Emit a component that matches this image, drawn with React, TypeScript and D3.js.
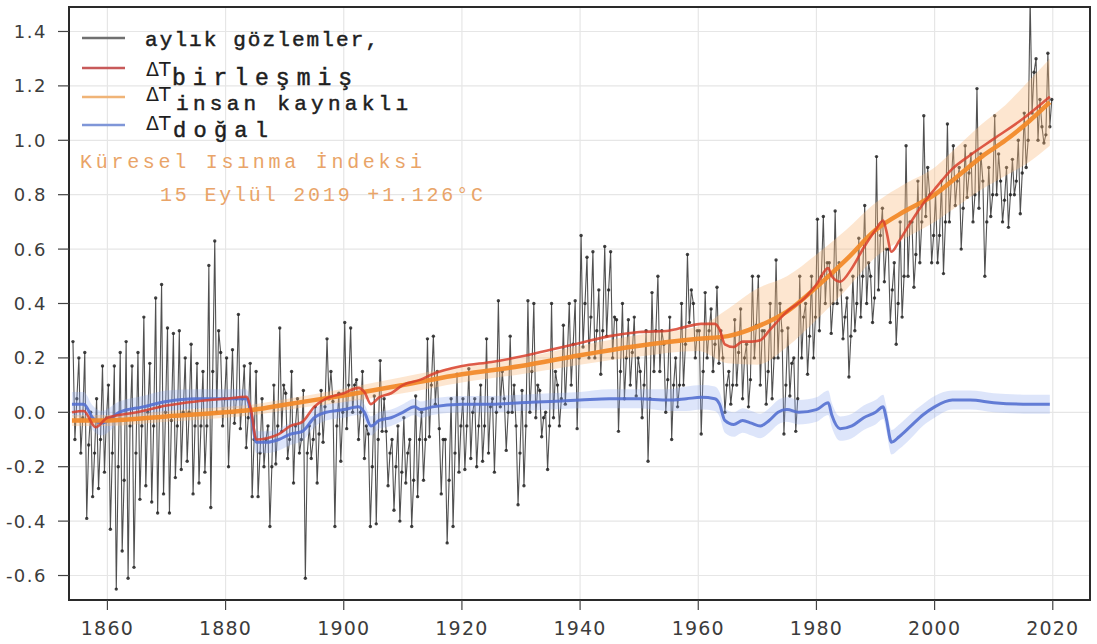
import React from 'react';
import * as d3 from 'd3';

// ---------- DATA ----------
const obsStartYear = 1854;
const obsHigh = [
  0.26, 0.20, 0.22, 0.00, 0.05, 0.17,
  0.10, 0.17, 0.22, 0.26, 0.17, 0.22, 0.35, 0.18, 0.42, 0.47,
  0.31, 0.29, 0.30, 0.20, 0.25, 0.18, 0.15, 0.54, 0.63, 0.22,
  0.20, 0.23, 0.36, 0.17, 0.18, 0.15, 0.05, -0.05, 0.10, 0.31,
  0.07, 0.15, 0.05, 0.08, -0.05, 0.02, 0.08, 0.27, 0.04, 0.07,
  0.33, 0.31, 0.12, 0.15, -0.08, 0.06, 0.19, -0.07, -0.10, -0.05,
  -0.02, -0.10, 0.06, 0.00, 0.27, 0.28, -0.06, -0.10, 0.05, 0.14,
  0.05, 0.16, 0.05, 0.10, 0.27, 0.05, 0.41, 0.05, 0.28, -0.05,
  0.08, 0.41, 0.40, 0.08, 0.00, 0.40, 0.10, 0.32, 0.40, 0.41,
  0.65, 0.57, 0.59, 0.45, 0.61, 0.59, 0.34, 0.40, 0.34, 0.35,
  0.15, 0.30, 0.44, 0.50, 0.25, 0.35, 0.20, 0.40, 0.58, 0.40,
  0.30, 0.44, 0.38, 0.46, 0.20, 0.15, 0.34, 0.38, 0.25, 0.50,
  0.50, 0.30, 0.40, 0.56, 0.30, 0.31, 0.20, 0.50, 0.40, 0.50,
  0.71, 0.72, 0.55, 0.74, 0.45, 0.42, 0.50, 0.64, 0.76, 0.50,
  0.94, 0.75, 0.60, 0.55, 0.70, 0.98, 0.70, 0.85, 1.09, 0.80,
  0.80, 0.85, 1.06, 0.98, 0.90, 0.98, 0.95, 1.19, 0.85, 0.90,
  1.09, 0.85, 0.90, 0.93, 1.00, 1.10, 1.52, 1.30, 1.05, 1.32,
];
const obsMid = [
  0.05, -0.02, -0.12, -0.15, -0.10, -0.02,
  -0.15, -0.20, -0.25, -0.05, -0.15, -0.05, 0.00, -0.05, 0.02, 0.00,
  -0.03, -0.05, 0.00, 0.00, -0.05, -0.05, -0.05, 0.15, 0.30, 0.05,
  0.00, 0.05, 0.05, -0.02, -0.10, -0.15, -0.10, -0.20, -0.05, 0.10,
  -0.10, -0.05, -0.10, -0.15, -0.10, -0.08, 0.02, 0.15, -0.05, 0.00,
  0.10, 0.10, 0.00, -0.05, -0.20, -0.10, 0.05, -0.15, -0.20, -0.22,
  -0.15, -0.25, -0.10, -0.10, 0.10, 0.15, -0.10, -0.25, -0.15, -0.05,
  -0.05, 0.00, -0.05, -0.05, 0.02, 0.00, 0.15, 0.00, 0.10, -0.15,
  -0.05, 0.15, 0.10, -0.02, -0.05, 0.15, 0.05, 0.20, 0.25, 0.20,
  0.40, 0.35, 0.30, 0.30, 0.45, 0.35, 0.15, 0.20, 0.22, 0.20,
  0.10, 0.05, 0.30, 0.30, 0.12, 0.10, 0.10, 0.25, 0.45, 0.30,
  0.15, 0.30, 0.25, 0.30, 0.10, 0.10, 0.22, 0.20, 0.12, 0.32,
  0.30, 0.15, 0.20, 0.40, 0.10, 0.18, 0.05, 0.35, 0.28, 0.35,
  0.50, 0.55, 0.40, 0.55, 0.35, 0.28, 0.40, 0.50, 0.55, 0.42,
  0.65, 0.60, 0.45, 0.40, 0.50, 0.70, 0.58, 0.70, 0.90, 0.65,
  0.65, 0.70, 0.85, 0.85, 0.75, 0.88, 0.80, 0.95, 0.70, 0.80,
  0.95, 0.78, 0.80, 0.85, 0.88, 1.00, 1.25, 1.15, 1.02, 1.15,
];
const obsLow = [
  -0.10, -0.15, -0.39, -0.31, -0.28, -0.22,
  -0.43, -0.65, -0.51, -0.61, -0.57, -0.32, -0.27, -0.33, -0.37, -0.30,
  -0.37, -0.24, -0.21, -0.18, -0.30, -0.26, -0.22, -0.35, 0.00, -0.05,
  -0.20, -0.04, -0.06, -0.13, -0.31, -0.31, -0.20, -0.42, -0.19, -0.07,
  -0.17, -0.26, -0.15, -0.61, -0.17, -0.26, -0.11, 0.05, -0.42, -0.18,
  -0.06, 0.00, -0.10, -0.17, -0.42, -0.41, -0.07, -0.27, -0.36, -0.40,
  -0.26, -0.42, -0.31, -0.25, -0.09, 0.03, -0.30, -0.48, -0.42, -0.22,
  -0.21, -0.17, -0.20, -0.18, -0.15, -0.22, 0.02, -0.14, 0.00, -0.34,
  -0.27, 0.00, -0.02, -0.09, -0.21, -0.02, -0.05, 0.03, 0.10, -0.06,
  0.24, 0.20, 0.20, 0.14, 0.28, 0.20, -0.07, 0.05, 0.10, 0.06,
  -0.02, -0.18, 0.15, 0.15, 0.00, -0.10, 0.02, 0.10, 0.33, 0.20,
  -0.08, 0.20, 0.15, 0.18, 0.00, 0.03, 0.10, 0.05, 0.02, 0.20,
  0.10, 0.03, 0.05, 0.20, -0.08, 0.06, -0.07, 0.20, 0.14, 0.20,
  0.30, 0.40, 0.29, 0.40, 0.27, 0.13, 0.30, 0.35, 0.40, 0.33,
  0.45, 0.48, 0.33, 0.25, 0.35, 0.50, 0.46, 0.55, 0.72, 0.55,
  0.55, 0.51, 0.70, 0.76, 0.60, 0.79, 0.70, 0.75, 0.50, 0.72,
  0.80, 0.70, 0.68, 0.80, 0.73, 0.90, 1.10, 1.00, 0.99, 1.05,
];

// anthropogenic warming (orange) with its uncertainty half-width
const anthroYears = [1854, 1860, 1870, 1880, 1885, 1890, 1900, 1910, 1920, 1930, 1940, 1950, 1960, 1965, 1970, 1975, 1980, 1985, 1990, 1995, 2000, 2004, 2008, 2012, 2016, 2019.5];
const anthroVals = [-0.03, -0.03, -0.015, 0.0, 0.01, 0.028, 0.062, 0.10, 0.14, 0.17, 0.21, 0.245, 0.27, 0.28, 0.315, 0.37, 0.46, 0.56, 0.67, 0.74, 0.80, 0.87, 0.94, 1.00, 1.07, 1.14];
const anthroSpread = [0.02, 0.02, 0.02, 0.02, 0.02, 0.02, 0.025, 0.03, 0.03, 0.03, 0.035, 0.04, 0.045, 0.10, 0.14, 0.13, 0.12, 0.11, 0.10, 0.10, 0.10, 0.11, 0.12, 0.13, 0.15, 0.16];

// natural warming (blue) with its uncertainty half-width
const natYears = [1854, 1856, 1857.5, 1859, 1862, 1866, 1870, 1875, 1880, 1883.5, 1884.3, 1885.2, 1887, 1889, 1891, 1893, 1895, 1897, 1900, 1902.5, 1903.5, 1904.6, 1906, 1908, 1910, 1912, 1913, 1915, 1920, 1925, 1930, 1935, 1940, 1945, 1950, 1955, 1958, 1960.5, 1962.8, 1963.6, 1964.5, 1966, 1967.5, 1969, 1970.5, 1972, 1973.5, 1975, 1977, 1980, 1982, 1982.6, 1984, 1986, 1988, 1990, 1991.3, 1991.8, 1992.7, 1994, 1996, 1998, 2000, 2003, 2006, 2010, 2015, 2019.5];
const natVals = [0.03, 0.03, -0.02, -0.04, 0.0, 0.02, 0.04, 0.05, 0.05, 0.05, 0.0, -0.11, -0.11, -0.10, -0.08, -0.07, -0.02, 0.0, 0.01, 0.02, 0.0, -0.05, -0.03, -0.02, 0.0, 0.02, 0.01, 0.02, 0.03, 0.03, 0.035, 0.04, 0.045, 0.05, 0.05, 0.045, 0.05, 0.055, 0.05, 0.03, -0.03, -0.045, -0.03, -0.04, -0.05, -0.03, 0.0, 0.01, 0.0, 0.01, 0.035, -0.01, -0.06, -0.05, -0.02, 0.0, 0.02, -0.02, -0.11, -0.09, -0.05, -0.01, 0.02, 0.045, 0.045, 0.035, 0.03, 0.03];
const natSpread = [0.045, 0.045, 0.045, 0.045, 0.04, 0.04, 0.04, 0.035, 0.035, 0.035, 0.04, 0.04, 0.04, 0.04, 0.04, 0.035, 0.035, 0.03, 0.03, 0.03, 0.03, 0.035, 0.03, 0.03, 0.03, 0.03, 0.03, 0.03, 0.03, 0.03, 0.03, 0.03, 0.03, 0.035, 0.035, 0.04, 0.045, 0.045, 0.045, 0.045, 0.045, 0.045, 0.045, 0.045, 0.045, 0.045, 0.045, 0.045, 0.045, 0.045, 0.045, 0.045, 0.045, 0.045, 0.045, 0.045, 0.045, 0.045, 0.045, 0.045, 0.045, 0.04, 0.04, 0.035, 0.035, 0.035, 0.035, 0.035];

// combined warming (red)
const combYears = [1854, 1856, 1858, 1860, 1865, 1870, 1875, 1880, 1883.5, 1884.3, 1885.2, 1887, 1889, 1891, 1893, 1895, 1897, 1900, 1902.5, 1903.5, 1904.6, 1906, 1908, 1910, 1913, 1915, 1920, 1925, 1930, 1935, 1940, 1945, 1950, 1955, 1958, 1960.5, 1962.8, 1963.6, 1964.5, 1966, 1967.5, 1969, 1970.5, 1972, 1975, 1978, 1980, 1982, 1982.6, 1984, 1986, 1988, 1990, 1991.3, 1991.8, 1992.7, 1994, 1996, 1998, 2000, 2003, 2006, 2010, 2015, 2019.5];
const combVals = [0.0, 0.005, -0.055, -0.02, 0.0, 0.025, 0.04, 0.05, 0.057, 0.01, -0.10, -0.095, -0.08, -0.05, -0.035, 0.02, 0.05, 0.07, 0.09, 0.074, 0.03, 0.055, 0.07, 0.10, 0.12, 0.14, 0.17, 0.185, 0.205, 0.23, 0.255, 0.28, 0.295, 0.30, 0.315, 0.325, 0.325, 0.305, 0.25, 0.24, 0.26, 0.26, 0.265, 0.30, 0.37, 0.42, 0.47, 0.53, 0.50, 0.48, 0.53, 0.605, 0.67, 0.705, 0.67, 0.59, 0.63, 0.70, 0.765, 0.82, 0.895, 0.945, 1.005, 1.08, 1.16];

const xTicks = [1860, 1880, 1900, 1920, 1940, 1960, 1980, 2000, 2020];
const yTicks = [-0.6, -0.4, -0.2, 0.0, 0.2, 0.4, 0.6, 0.8, 1.0, 1.2, 1.4];

const legendObs = 'aylık gözlemler,';
const legendComb = 'birleşmiş';
const legendAnthro = 'insan kaynaklı';
const legendNat = 'doğal';
const gwiTitle = 'Küresel Isınma İndeksi';
const gwiValue = '15 Eylül 2019 +1.126°C';

// ---------- CHART ----------
const W = 1097;
const H = 644;
const L = 69, R = 1090, T = 7, B = 600;

export default function App() {
  const x = d3.scaleLinear().domain([1853.5, 2026.3]).range([L, R]);
  const y = d3.scaleLinear().domain([-0.69, 1.49]).range([B, T]);

  const obsPts: [number, number][] = [];
  obsHigh.forEach((h, i) => {
    const yr = obsStartYear + i;
    obsPts.push([yr + 0.17, h]);
    obsPts.push([yr + 0.5, obsLow[i]]);
    obsPts.push([yr + 0.83, obsMid[i]]);
  });
  const obsLine = d3.line<[number, number]>().x(d => x(d[0])).y(d => y(d[1]))(obsPts) || '';

  const mkLine = (xs: number[], vs: number[]) =>
    d3.line<number>().curve(d3.curveMonotoneX).x((_, i) => x(xs[i])).y(v => y(v))(vs) || '';
  const mkBand = (xs: number[], vs: number[], sp: number[]) =>
    d3.area<number>().curve(d3.curveMonotoneX)
      .x((_, i) => x(xs[i]))
      .y0((v, i) => y(v - sp[i]))
      .y1((v, i) => y(v + sp[i]))(vs) || '';

  const fontTick = 'DejaVu Sans, sans-serif';
  const fontMono = 'Liberation Mono, DejaVu Sans Mono, monospace';

  return (
    <svg width={W} height={H} style={{ position: 'absolute', left: 0, top: 0, background: '#fff' }}>
      <defs>
        <clipPath id="plot">
          <rect x={L} y={T} width={R - L} height={B - T} />
        </clipPath>
      </defs>
      <rect x={0} y={0} width={W} height={H} fill="#fff" />
      {/* grid */}
      <g stroke="#e6e6e6" strokeWidth={1.2}>
        {xTicks.map(t => <line key={'gx' + t} x1={x(t)} x2={x(t)} y1={T} y2={B} />)}
        {yTicks.map(t => <line key={'gy' + t} x1={L} x2={R} y1={y(t)} y2={y(t)} />)}
      </g>
      <g clipPath="url(#plot)">
        {/* observations */}
        <path d={obsLine} fill="none" stroke="#262626" strokeOpacity={0.8} strokeWidth={1.1} />
        <g fill="#222" fillOpacity={0.85}>
          {obsPts.map((p, i) => <circle key={'o' + i} cx={x(p[0])} cy={y(p[1])} r={1.7} />)}
        </g>
        {/* bands */}
        <path d={mkBand(natYears, natVals, natSpread)} fill="#8fa8ee" fillOpacity={0.3} />
        <path d={mkBand(anthroYears, anthroVals, anthroSpread)} fill="#f8b878" fillOpacity={0.35} />
        {/* lines */}
        <path d={mkLine(natYears, natVals)} fill="none" stroke="#5470d0" strokeWidth={3} strokeOpacity={0.9} />
        <path d={mkLine(anthroYears, anthroVals)} fill="none" stroke="#f28a2a" strokeWidth={4.5} strokeOpacity={0.95} />
        <path d={mkLine(combYears, combVals)} fill="none" stroke="#d8402c" strokeWidth={2.6} strokeOpacity={0.85} />
      </g>
      {/* frame */}
      <rect x={L} y={T} width={R - L} height={B - T} fill="none" stroke="#2a2a2a" strokeWidth={2} />
      {/* y axis */}
      <g fill="#3c3c3c" fontFamily={fontTick} fontSize={18}>
        {yTicks.map(t => (
          <g key={'yt' + t}>
            <line x1={58} x2={L} y1={y(t)} y2={y(t)} stroke="#444" strokeWidth={1.2} />
            <text x={47} y={y(t) + 6.5} textAnchor="end" letterSpacing={1.5}>
              {t < 0 ? '-' + Math.abs(t).toFixed(1) : t.toFixed(1)}
            </text>
          </g>
        ))}
      </g>
      {/* x axis */}
      <g fill="#3c3c3c" fontFamily={fontTick} fontSize={19}>
        {xTicks.map(t => (
          <g key={'xt' + t}>
            <line x1={x(t)} x2={x(t)} y1={B} y2={610} stroke="#444" strokeWidth={1.2} />
            <text x={x(t)} y={635} textAnchor="middle" letterSpacing={1.2}>{t}</text>
          </g>
        ))}
      </g>
      {/* legend */}
      <g strokeWidth={2.5}>
        <line x1={82} x2={125} y1={38} y2={38} stroke="#707070" />
        <line x1={82} x2={125} y1={68} y2={68} stroke="#c85a5a" />
        <line x1={82} x2={125} y1={97} y2={97} stroke="#f0b477" />
        <line x1={82} x2={125} y1={125} y2={125} stroke="#7f96d8" />
      </g>
      <g fill="#1e1e1e" stroke="#1e1e1e" strokeWidth={0.5} fontFamily={fontMono} fontSize={21}>
        <text x={145} y={46} textLength={233} lengthAdjust="spacing">{legendObs}</text>
        <text x={172} y={85} fontSize={23} textLength={180} lengthAdjust="spacing">{legendComb}</text>
        <text x={176} y={110} textLength={232} lengthAdjust="spacing">{legendAnthro}</text>
        <text x={173} y={137} fontSize={22} textLength={95} lengthAdjust="spacing">{legendNat}</text>
      </g>
      <g fill="#1e1e1e" fontFamily={fontTick} fontSize={19}>
        <text x={146} y={76}>ΔT</text>
        <text x={146} y={101}>ΔT</text>
        <text x={146} y={130}>ΔT</text>
      </g>
      <g fill="#e9a468" fontFamily={fontMono} fontSize={20}>
        <text x={80} y={168} textLength={342} lengthAdjust="spacing">{gwiTitle}</text>
        <text x={160} y={201} textLength={323} lengthAdjust="spacing">{gwiValue}</text>
      </g>
    </svg>
  );
}
